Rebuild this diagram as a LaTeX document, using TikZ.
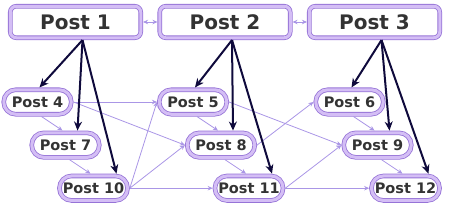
\documentclass[tikz,border=0pt]{standalone}
\usepackage{fontspec}
\setmainfont{DejaVu Sans}
\usetikzlibrary{arrows.meta,shapes}
\usetikzlibrary{positioning}
\definecolor{fg}{rgb}{0.2,0.2,0.2}
\definecolor{ring}{RGB}{150,115,215}
\definecolor{ringfill}{RGB}{212,190,245}
\definecolor{navy}{RGB}{15,10,60}
\definecolor{soft}{RGB}{170,150,230}
\tikzstyle{toppost}=[draw=ring, double=ringfill, double distance=3pt, line width=0.8pt,
fill=white, rounded corners=6pt, minimum width=130.5pt, minimum height=31.5pt, outer sep=2.3pt,
text=fg, font=\bfseries\fontsize{20}{22}\selectfont]
\tikzstyle{post}=[toppost, rounded corners=12pt, minimum width=67.5pt, minimum height=24.5pt,
font=\bfseries\fontsize{14.5}{16}\selectfont]
\tikzstyle{myarrow}=[->, >={Stealth[length=9pt,width=8pt]}, line width=2pt, draw=navy]
\tikzstyle{softarrow}=[->, >={Stealth[length=5pt,width=4.5pt]}, line width=0.8pt, draw=soft]

\begin{document}
\begin{tikzpicture}

    \useasboundingbox (0,0) rectangle (451pt,-209pt);

    % TOP ROW
    \node[toppost] (P1) at (75.5pt,-22pt) {Post 1};
    \node[toppost, right=14.4pt of P1] (P2) {Post 2};
    \node[toppost, right=14.4pt of P2] (P3) {Post 3};
    \draw[softarrow, <->] (P1) -- (P2) ;
    \draw[softarrow, <->] (P2) -- (P3) ;

    % GROUP 1
    \node[post, below=47.4pt of P1, xshift=-38pt] (P4) {Post 4};
    \node[post, below=14pt of P4, xshift=28pt] (P7) {Post 7};
    \node[post, below=14pt of P7, xshift=28pt] (P10) {Post 10};

    % GROUP 2
    \node[post, below=47.4pt of P2, xshift=-32pt] (P5) {Post 5};
    \node[post, below=14pt of P5, xshift=28pt] (P8) {Post 8};
    \node[post, below=14pt of P8, xshift=28pt] (P11) {Post 11};

    % GROUP 3
    \node[post, below=47.4pt of P3, xshift=-25pt] (P6) {Post 6};
    \node[post, below=14pt of P6, xshift=28pt] (P9) {Post 9};
    \node[post, below=14pt of P9, xshift=28pt] (P12) {Post 12};

    % SOFT LINKS
    \draw[softarrow] ([xshift=4pt]P4.south) -- ([xshift=-3pt]P7.north) ;
    \draw[softarrow] ([xshift=4pt]P7.south) -- ([xshift=-3pt]P10.north) ;
    \draw[softarrow] ([xshift=4pt]P5.south) -- ([xshift=-3pt]P8.north) ;
    \draw[softarrow] ([xshift=4pt]P8.south) -- ([xshift=-3pt]P11.north) ;
    \draw[softarrow] ([xshift=4pt]P6.south) -- ([xshift=-3pt]P9.north) ;
    \draw[softarrow] ([xshift=4pt]P9.south) -- ([xshift=-3pt]P12.north) ;
    \draw[softarrow] (P4.east) -- (P5.west) ;
    \draw[softarrow] (P4.east) -- (P8.west) ;
    \draw[softarrow] (P10.east) -- (P5.west) ;
    \draw[softarrow] (P10.east) -- (P8.west) ;
    \draw[softarrow] (P10.east) -- (P11.west) ;
    \draw[softarrow] (P5.east) -- (P9.west) ;
    \draw[softarrow] (P8.east) -- (P6.west) ;
    \draw[softarrow] (P11.east) -- (P9.west) ;
    \draw[softarrow] (P11.east) -- (P12.west) ;

    % POST 1
    \draw[myarrow] ([xshift=7pt]P1.south) -- ([xshift=2pt]P4.north) ;
    \draw[myarrow] ([xshift=7pt]P1.south) -- ([xshift=12pt]P7.north) ;
    \draw[myarrow] ([xshift=7pt]P1.south) -- ([xshift=23pt]P10.north) ;

    % POST 2
    \draw[myarrow] ([xshift=7pt]P2.south) -- ([xshift=2pt]P5.north) ;
    \draw[myarrow] ([xshift=7pt]P2.south) -- ([xshift=12pt]P8.north) ;
    \draw[myarrow] ([xshift=7pt]P2.south) -- ([xshift=23pt]P11.north) ;

    % POST 3
    \draw[myarrow] ([xshift=7pt]P3.south) -- ([xshift=2pt]P6.north) ;
    \draw[myarrow] ([xshift=7pt]P3.south) -- ([xshift=12pt]P9.north) ;
    \draw[myarrow] ([xshift=7pt]P3.south) -- ([xshift=23pt]P12.north) ;

\end{tikzpicture}
\end{document}
